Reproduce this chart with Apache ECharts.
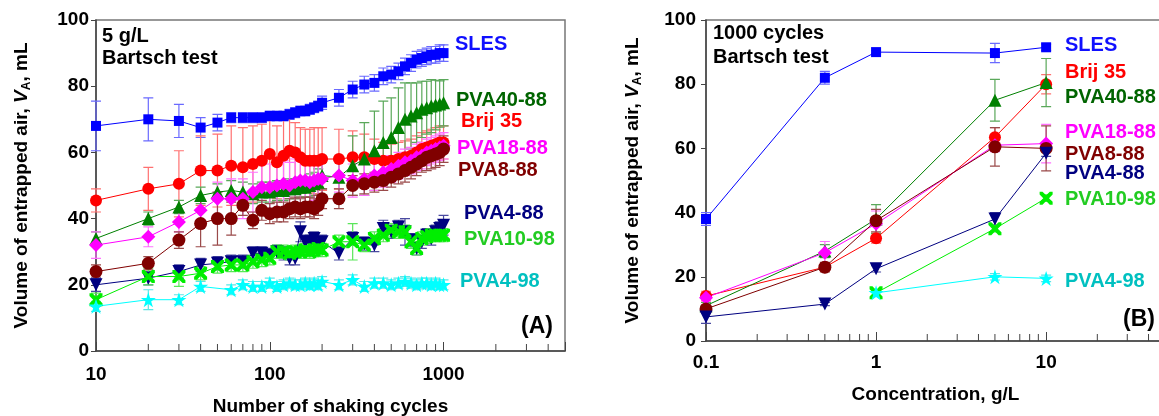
<!DOCTYPE html>
<html>
<head>
<meta charset="utf-8">
<script src="https://cdn.jsdelivr.net/npm/echarts@6/dist/echarts.min.js"></script>
<style>
  html, body { margin: 0; padding: 0; background: #fff; }
  #main { width: 1159px; height: 416px; }
</style>
</head>
<body>
<div id="main"></div>
<script>
// ---- panel A: volume vs number of shaking cycles (5 g/L) ----
const cyclesA = [10, 20, 30, 40, 50, 60, 70, 80, 90, 100,
  110, 120, 130, 140, 150, 160, 170, 180, 190, 200,
  250, 300, 350, 400, 450, 500, 550, 600, 650, 700, 750, 800, 850, 900, 950, 1000];

const slesA = [68, 70, 69.5, 67.5, 69, 70.5, 70.5, 70.5, 70.5, 71,
  71, 71, 71.5, 72, 72.5, 72.5, 73, 73.5, 74, 75,
  76.5, 79, 80.5, 81, 83, 83.5, 84.5, 86, 87, 88, 88.5, 89, 89.5, 89.5, 90, 90];
const brijA = [45.5, 49, 50.5, 54.5, 54.5, 56, 55.5, 56.5, 57.5, 59.5,
  57, 59, 60.5, 60, 58.5, 57.5, 57.5, 57.5, 57.5, 58,
  58, 58.5, 58.5, 58, 57.5, 57.5, 58, 58.5, 59, 60, 61, 61.5, 62, 62.5, 63, 63];
const pva4088A = [34, 40, 43.5, 47, 48, 48.5, 48, 47.5, 48, 48,
  48.5, 48.5, 49, 49, 49.5, 49.5, 50, 50.5, 51, 53,
  52.5, 56, 58, 60.5, 63, 64.5, 67.5, 70, 71, 72, 73, 73.5, 74, 74.3, 74.6, 75];
const pva1888A = [32, 34.5, 39, 42.5, 46, 46, 46, 48, 49.5, 49.5,
  50, 50.5, 50, 51, 51.5, 51.5, 51, 51.5, 52, 52,
  53, 51.5, 52, 53, 54, 55, 56, 57, 57.5, 58.5, 59, 60, 60.5, 61, 61.5, 62];
const pva888A = [24, 26.5, 33.5, 38.5, 40, 40, 44, 39.5, 42.5, 41.5,
  42, 42, 43, 43.5, 43, 43.5, 43.5, 43, 44, 46,
  46, 50, 50.5, 51, 51.5, 52.5, 53.5, 54.5, 55.5, 56.5, 57.5, 58.5, 59, 59.5, 60, 61];
const pva488A = [20, 22, 24, 26, 26.5, 27, 27, 29.5, 29.5, 29,
  30, 29.5, 28, 28, 36, 33, 33, 34, 32, 33,
  29.5, 34, 32.5, 32, 37, 36, 37.5, 36, 33.5, 31, 33, 35, 34, 36, 37, 38];
const pva1098A = [15.5, 22.5, 22.5, 23.5, 25.5, 26, 26, 27, 27.5, 28,
  30, 30, 29.5, 30, 30, 30.5, 30, 30.5, 31, 30.5,
  33, 33, 32, 34, 35, 36.5, 36, 36, 33, 31, 34, 34.5, 35, 35, 35, 35];
const pva498A = [13.5, 15.5, 15.5, 19.5, null, 18.5, 20, 19.5, 19.5, 20.5,
  19.5, 20, 20.5, 20, 20, 20.5, 20, 20.5, 20, 21,
  20, 21.5, 19.5, 20.5, 20.5, 20, 20.5, 21, 20.5, 20, 20.5, 20.5, 20, 20.5, 20, 20];

// error bars (+/-)
const slesErrA = [7.5, 6.5, 5, 3, 2.5, 1.5, 1.5, 1.5, 1.5, 1.5,
  1.5, 1.5, 1.5, 1.5, 1.5, 1.5, 1.5, 1.5, 1.5, 2,
  2.5, 2.5, 2.5, 2.5, 2.5, 2.5, 2.5, 2.5, 2.5, 2.5, 2.5, 2.5, 2.5, 2.5, 2.5, 2.5];
const brijErrA = [3.5, 6.5, 10, 10.5, 11, 12, 12, 11.5, 11, 10.5,
  11, 11, 10, 9, 9, 9.5, 9.5, 10, 10, 9.5,
  9, 8, 7, 6, 5.5, 5, 5, 5, 5, 5, 5, 5, 5, 5, 5, 5];
const pva4088ErrA = [2, 2, 2, 2.5, 2.5, 3, 3, 3, 3, 3,
  3, 3, 3, 3, 3, 3, 3.5, 3.5, 4, 4,
  5, 9, 11, 12, 12.5, 12, 12, 11, 10, 9, 8.5, 8, 8, 7.5, 7, 7];
const pva1888ErrA = [4, 3, 3, 3, 5, 6, 6, 6, 7, 7,
  7, 7, 7, 7, 7, 7, 6, 6, 6, 6,
  5, 5, 5, 4.5, 4.5, 4, 4, 4, 4, 4, 4, 4, 4, 4, 4, 4];
const pva888ErrA = [2, 2, 2.5, 7, 8, 5, 3, 2.5, 3, 3,
  3, 3, 3, 3, 3, 3, 3, 3, 3, 3,
  3, 3, 3, 3, 3, 3, 3, 3.5, 3.5, 3.5, 3.5, 4, 4, 4, 4, 4];
const pva488ErrA = [2, 2, 2, 2, 2, 2, 2, 2, 2, 2,
  2, 2, 2, 2, 3, 2, 2, 2, 2, 2,
  2, 2, 2, 2, 2.5, 2, 2, 4, 2, 2, 2, 2, 2, 2, 2, 3];
const pva1098ErrA = [2, 2.5, 3, 2, 2, 2, 2, 2, 2, 2,
  2, 2, 2, 2, 2, 2, 2, 2, 2, 2,
  2, 5.5, 2, 2, 2, 2, 2, 2, 2, 2, 2, 2, 2, 2, 2, 2];
const pva498ErrA = [1.5, 3, 1.5, 1.5, 0, 1.5, 1.5, 1.5, 1.5, 1.5,
  1.5, 1.5, 1.5, 1.5, 1.5, 1.5, 1.5, 1.5, 1.5, 1.5,
  1.5, 1.5, 1.5, 1.5, 1.5, 1.5, 1.5, 1.5, 1.5, 1.5, 1.5, 1.5, 1.5, 1.5, 1.5, 1.5];

// ---- panel B: volume vs concentration (1000 cycles) ----
const concB = [0.1, 0.5, 1, 5, 10];
const slesB = [38, 82, 90, 89.7, 91.5];
const brijB = [14, 23, 32, 63.5, 80];
const pva4088B = [11, 28, 38, 75, 80.5];
const pva1888B = [13.5, 27.5, 36.5, 61, 61.5];
const pva888B = [10, 23, 37.5, 60.5, 60];
const pva488B = [7.5, 11.5, 22.5, 38, 58.5];
const pva1098B = [null, null, 15, 35, 44.5];
const pva498B = [null, null, 15, 20, 19.5];

const slesErrB = [2, 2, 0.5, 3, 1];
const brijErrB = [1.5, 1, 1.5, 3, 3];
const pva4088ErrB = [1, 2, 4.5, 6.5, 7.5];
const pva1888ErrB = [1, 3.5, 4, 2, 6];
const pva888ErrB = [1, 1.5, 3.5, 6, 7];
const pva488ErrB = [2, 0.5, 1, 2, 1];
const pva1098ErrB = [0, 0, 1, 1, 1];
const pva498ErrB = [0, 0, 1, 1, 1];

// axis ticks
const majorTicksA = [10, 100, 1000];
const tickLabelsA = ['10', '100', '1000'];
const minorTicksA = [20, 30, 40, 50, 60, 70, 80, 90, 200, 300, 400, 500, 600, 700, 800, 900, 2000, 3000, 4000];
const majorTicksB = [0.1, 1, 10];
const tickLabelsB = ['0.1', '1', '10'];
const minorTicksB = [0.2, 0.3, 0.4, 0.5, 0.6, 0.7, 0.8, 0.9, 2, 3, 4, 5, 6, 7, 8, 9, 20, 30, 40];

const seriesNames = ['SLES', 'Brij 35', 'PVA40-88', 'PVA18-88', 'PVA8-88', 'PVA4-88', 'PVA10-98', 'PVA4-98'];

const FONT = '"Liberation Sans", Arial, Helvetica, sans-serif';
const X_PATH = 'path://M0,0L2.2,0L5,2.8L7.8,0L10,0L10,2.2L7.2,5L10,7.8L10,10L7.8,10L5,7.2L2.2,10L0,10L0,7.8L2.8,5L0,2.2Z';
const STAR_PATH = 'path://M5,0L6.2,3.6L10,3.6L6.9,5.9L8.1,9.5L5,7.3L1.9,9.5L3.1,5.9L0,3.6L3.8,3.6Z';

// marker look per series (same order as seriesNames)
const looks = [
  { color: '#0000ff', bar: '#6a6aff', text: '#1010ff', symbol: 'rect', size: 10 },
  { color: '#ff0000', bar: '#ff7070', text: '#ff0000', symbol: 'circle', size: 12 },
  { color: '#008000', bar: '#5aa85a', text: '#006400', symbol: 'triangle', size: 13 },
  { color: '#ff00ff', bar: '#ff70ff', text: '#ff00ff', symbol: 'diamond', size: 14 },
  { color: '#800000', bar: '#9a4a4a', text: '#800000', symbol: 'circle', size: 13 },
  { color: '#000080', bar: '#4a4aa0', text: '#000080', symbol: 'triangle', size: 13, rotate: 180 },
  { color: '#00ee00', bar: '#5ae65a', text: '#22cc22', symbol: X_PATH, size: 13 },
  { color: '#00ffff', bar: '#5ae6e6', text: '#00c0c0', symbol: STAR_PATH, size: 15 }
];

const valuesA = [slesA, brijA, pva4088A, pva1888A, pva888A, pva488A, pva1098A, pva498A];
const errsA = [slesErrA, brijErrA, pva4088ErrA, pva1888ErrA, pva888ErrA, pva488ErrA, pva1098ErrA, pva498ErrA];
const valuesB = [slesB, brijB, pva4088B, pva1888B, pva888B, pva488B, pva1098B, pva498B];
const errsB = [slesErrB, brijErrB, pva4088ErrB, pva1888ErrB, pva888ErrB, pva488ErrB, pva1098ErrB, pva498ErrB];

// one error bar (whisker with caps) as a single polyline, placed by the axis scales
function errorBar(color) {
  return function (params, api) {
    const x = api.value(0);
    const lo = api.coord([x, api.value(1)]);
    const hi = api.coord([x, api.value(2)]);
    return {
      type: 'polyline',
      shape: { points: [[hi[0] - 5, hi[1]], [hi[0] + 5, hi[1]], [hi[0], hi[1]], [lo[0], lo[1]], [lo[0] - 5, lo[1]], [lo[0] + 5, lo[1]]] },
      style: { stroke: color, lineWidth: 1.2, fill: null }
    };
  };
}

function minorTick(params, api) {
  const p = api.coord([api.value(0), 0]);
  return { type: 'line', shape: { x1: p[0], y1: p[1], x2: p[0], y2: p[1] - 7 }, style: { stroke: '#444', lineWidth: 1 } };
}

function buildSeries(idx, xs, values, errs) {
  const barSeries = [], markSeries = [];
  values.forEach((ys, i) => {
    const lk = looks[i];
    const es = errs[i];
    const pts = [], bars = [];
    xs.forEach((x, k) => {
      if (ys[k] == null) return;
      pts.push([x, ys[k]]);
      if (es[k]) bars.push([x, ys[k] - es[k], ys[k] + es[k]]);
    });
    barSeries.push({
      type: 'custom',
      xAxisIndex: idx, yAxisIndex: idx,
      data: bars,
      encode: { x: 0, y: [1, 2] },
      renderItem: errorBar(lk.bar),
      silent: true,
      z: 2
    });
    markSeries.push({
      name: seriesNames[i],
      type: 'line',
      xAxisIndex: idx, yAxisIndex: idx,
      data: pts,
      symbol: lk.symbol,
      symbolSize: lk.size,
      symbolRotate: lk.rotate || 0,
      showAllSymbol: true,
      lineStyle: { color: lk.color, width: 1 },
      itemStyle: { color: lk.color, opacity: 1 },
      z: 3
    });
  });
  return barSeries.concat(markSeries);
}

function tickFormatter(vals, labels) {
  return function (v) {
    for (let i = 0; i < vals.length; i++) {
      if (Math.abs(Math.log10(v) - Math.log10(vals[i])) < 1e-6) return labels[i];
    }
    return '';
  };
}

const axisFont = { fontFamily: FONT, fontSize: 19, fontWeight: 'bold', color: '#000' };
const yName = '{t|Volume of entrapped air, }{v|V}{s|A}{t|, mL}';
const yNameStyle = {
  fontFamily: FONT, fontSize: 19, fontWeight: 'bold', color: '#000',
  rich: {
    t: { fontFamily: FONT, fontSize: 19, fontWeight: 'bold', lineHeight: 22 },
    v: { fontFamily: FONT, fontSize: 19, fontWeight: 'bold', fontStyle: 'italic', lineHeight: 22 },
    s: { fontFamily: FONT, fontSize: 12, fontWeight: 'bold', lineHeight: 12, verticalAlign: 'bottom' }
  }
};

function yAxisCfg(idx, labelMargin, gap) {
  return {
    type: 'value', gridIndex: idx, min: 0, max: 100, interval: 20,
    name: yName, nameLocation: 'middle', nameGap: gap, nameTextStyle: yNameStyle,
    axisLine: { show: true, onZero: false, lineStyle: { color: '#444', width: 1.5 } },
    axisTick: { show: true, inside: false, length: 5, lineStyle: { color: '#444' } },
    axisLabel: Object.assign({ margin: labelMargin }, axisFont),
    splitLine: { show: false }
  };
}

function xAxisCfg(idx, min, max, name, gap, margin, ticks, labels) {
  return {
    type: 'log', logBase: 10, gridIndex: idx, min: min, max: max,
    name: name, nameLocation: 'middle', nameGap: gap,
    nameTextStyle: { fontFamily: FONT, fontSize: 19, fontWeight: 'bold', color: '#000' },
    axisLine: { show: true, onZero: false, lineStyle: { color: '#444', width: 1.5 } },
    axisTick: { show: true, inside: true, length: 9, lineStyle: { color: '#444' } },
    axisLabel: Object.assign({ margin: margin, formatter: tickFormatter(ticks, labels) }, axisFont),
    splitLine: { show: false },
    minorTick: { show: false }
  };
}

function label(text, x, y, color, size) {
  return {
    type: 'text', x: x, y: y, z: 100,
    style: { text: text, fill: color, font: 'bold ' + (size || 20) + 'px ' + FONT, verticalAlign: 'middle' }
  };
}

const chart = echarts.init(document.getElementById('main'), null, { renderer: 'canvas' });

const option = {
  animation: false,
  backgroundColor: '#fff',
  grid: [
    { left: 96, top: 20, right: 594, bottom: 65, show: true, borderColor: '#777', borderWidth: 1.5, outerBoundsMode: 'none', containLabel: false },
    { left: 706, top: 20, right: -6, bottom: 75, show: true, borderColor: '#777', borderWidth: 1.5, outerBoundsMode: 'none', containLabel: false }
  ],
  xAxis: [
    xAxisCfg(0, 10, 5000, 'Number of shaking cycles', 46, 14, majorTicksA, tickLabelsA),
    xAxisCfg(1, 0.1, 50, 'Concentration, g/L', 44, 12, majorTicksB, tickLabelsB)
  ],
  yAxis: [yAxisCfg(0, 7, 63), yAxisCfg(1, 10, 62)],
  series: [].concat(
    buildSeries(0, cyclesA, valuesA, errsA),
    buildSeries(1, concB, valuesB, errsB),
    [
      { type: 'custom', xAxisIndex: 0, yAxisIndex: 0, data: minorTicksA.map(v => [v, 0]), renderItem: minorTick, silent: true, z: 5 },
      { type: 'custom', xAxisIndex: 1, yAxisIndex: 1, data: minorTicksB.map(v => [v, 0]), renderItem: minorTick, silent: true, z: 5 }
    ]
  ),
  graphic: [
    label('5 g/L', 102, 36, '#000'),
    label('Bartsch test', 102, 58, '#000'),
    label('(A)', 521, 327, '#000', 23),
    label(seriesNames[0], 455, 44, looks[0].text),
    label(seriesNames[2], 456, 100, looks[2].text),
    label(seriesNames[1], 461, 121, looks[1].text),
    label(seriesNames[3], 457, 148, looks[3].text),
    label(seriesNames[4], 458, 170, looks[4].text),
    label(seriesNames[5], 464, 213, looks[5].text),
    label(seriesNames[6], 464, 239, looks[6].text),
    label(seriesNames[7], 460, 281, looks[7].text),

    label('1000 cycles', 713, 33, '#000'),
    label('Bartsch test', 713, 57, '#000'),
    label('(B)', 1123, 320, '#000', 23),
    label(seriesNames[0], 1065, 45, looks[0].text),
    label(seriesNames[1], 1065, 72, looks[1].text),
    label(seriesNames[2], 1065, 97, looks[2].text),
    label(seriesNames[3], 1065, 132, looks[3].text),
    label(seriesNames[4], 1065, 154, looks[4].text),
    label(seriesNames[5], 1065, 173, looks[5].text),
    label(seriesNames[6], 1065, 199, looks[6].text),
    label(seriesNames[7], 1065, 281, looks[7].text)
  ]
};

chart.setOption(option);
window.addEventListener('resize', function () {
  chart.resize();
});
</script>
</body>
</html>
